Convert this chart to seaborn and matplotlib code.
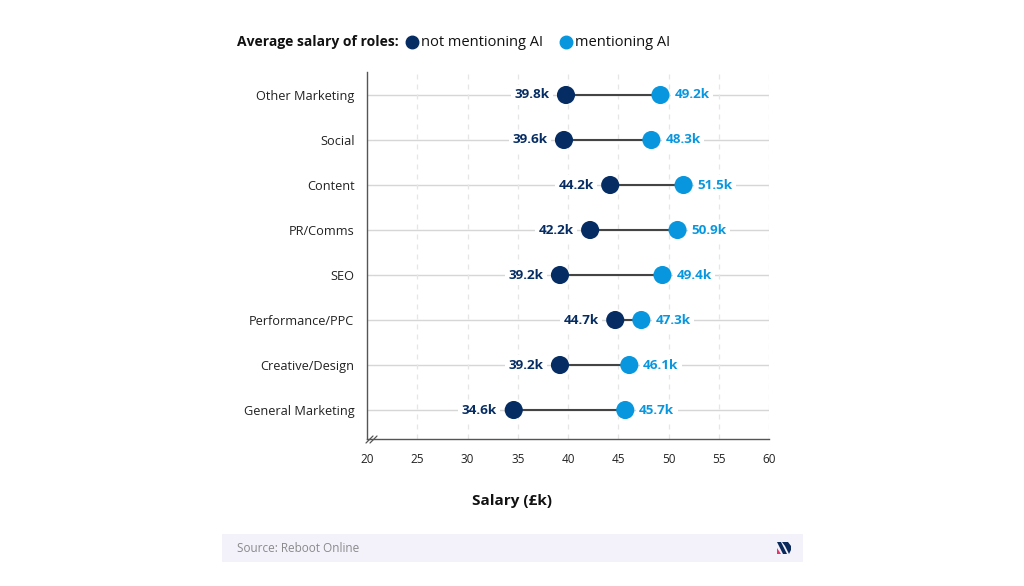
import matplotlib
matplotlib.use("Agg")
import matplotlib.pyplot as plt
import seaborn as sns
import pandas as pd
from matplotlib.patches import Rectangle, Polygon

categories = ["Other Marketing", "Social", "Content", "PR/Comms", "SEO",
              "Performance/PPC", "Creative/Design", "General Marketing"]
not_ai = [39.8, 39.6, 44.2, 42.2, 39.2, 44.7, 39.2, 34.6]
with_ai = [49.2, 48.3, 51.5, 50.9, 49.4, 47.3, 46.1, 45.7]
x_ticks = [20, 25, 30, 35, 40, 45, 50, 55, 60]

DARK = "#062d63"
LIGHT = "#0897de"
FONT = "Open Sans"

sns.set_theme(style="white")
plt.rcParams["font.family"] = [FONT, "DejaVu Sans"]

fig = plt.figure(figsize=(10.24, 5.86), dpi=100)
ax = fig.add_axes([367/1024, 1-439/586, (769-367)/1024, (439-72)/586])

df = pd.DataFrame({"role": categories, "not": not_ai, "ai": with_ai})
ypos = list(range(len(categories)))
df["y"] = ypos

# gridlines
for yv in ypos:
    ax.axhline(yv, color="#d6d6d6", lw=1.0, zorder=0)
for xv in x_ticks[1:]:
    ax.axvline(xv, color="#e6e6e6", lw=0.9, ls=(0, (4, 4)), zorder=0)

ax.hlines(df["y"], df["not"], df["ai"], color="#444444", lw=1.5, zorder=2)
sns.scatterplot(data=df, x="not", y="y", color=DARK, s=170, edgecolor="none", zorder=3, ax=ax, legend=False)
sns.scatterplot(data=df, x="ai", y="y", color=LIGHT, s=170, edgecolor="none", zorder=3, ax=ax, legend=False)

for _, r in df.iterrows():
    ax.annotate(f"{r['not']:.1f}k", (r["not"], r["y"]), xytext=(-12, 0), textcoords="offset points",
                ha="right", va="center", color=DARK, fontsize=9.7, fontweight="bold",
                bbox=dict(boxstyle="square,pad=0.25", fc="white", ec="none"), zorder=4)
    ax.annotate(f"{r['ai']:.1f}k", (r["ai"], r["y"]), xytext=(10, 0), textcoords="offset points",
                ha="left", va="center", color=LIGHT, fontsize=9.7, fontweight="bold",
                bbox=dict(boxstyle="square,pad=0.25", fc="white", ec="none"), zorder=4)

ax.set_xlim(20, 60)
ax.set_ylim(7.644, -0.511)
ax.set_xticks(x_ticks)
ax.set_xticklabels([str(v) for v in x_ticks], fontsize=8.5, color="#222222")
ax.set_yticks(ypos)
ax.set_yticklabels(categories, fontsize=9.2, color="#222222")
ax.tick_params(axis="both", length=0)
ax.tick_params(axis="x", pad=10)
ax.tick_params(axis="y", pad=9)
ax.set_xlabel("")
ax.set_ylabel("")
for s in ["top", "right"]:
    ax.spines[s].set_visible(False)
for s in ["left", "bottom"]:
    ax.spines[s].set_color("#555555")
    ax.spines[s].set_linewidth(1.0)

# axis break marks
for dx in (0, 4):
    fig.add_artist(plt.Line2D([(366+dx)/1024, (373+dx)/1024], [1-443/586, 1-436/586],
                              color="#555555", lw=0.9))

fig.text(512/1024, 1-501/586, "Salary (£k)", ha="center", va="center", fontsize=11, fontweight="bold", color="#111111")

# title legend
ty = 1-42/586
fig.text(237/1024, ty, "Average salary of roles:", ha="left", va="center", fontsize=10, fontweight="bold", color="#111111")
fig.add_artist(plt.Line2D([412/1024], [ty], marker="o", ms=9, color=DARK, ls="none"))
fig.text(421/1024, ty, "not mentioning AI", ha="left", va="center", fontsize=10.5, color="#111111")
fig.add_artist(plt.Line2D([566/1024], [ty], marker="o", ms=9, color=LIGHT, ls="none"))
fig.text(575/1024, ty, "mentioning AI", ha="left", va="center", fontsize=10.5, color="#111111")

# source bar
fig.add_artist(Rectangle((222/1024, 1-562/586), (803-222)/1024, 28/586, transform=fig.transFigure,
                         fc="#f3f2fb", ec="none", zorder=0))
fig.text(237/1024, 1-548/586, "Source: Reboot Online", ha="left", va="center", fontsize=8.5, color="#8a8a8a")
# small logo
def P(pts, c):
    fig.add_artist(Polygon([(x/1024, 1-y/586) for x, y in pts], closed=True, transform=fig.transFigure,
                           fc=c, ec="none"))
P([(777, 542), (781, 542), (787, 554), (783, 554)], "#0b2a5c")
P([(782, 542), (788, 542), (791, 546), (791, 550), (789, 554), (785, 546)], "#0b2a5c")
P([(777, 548), (781, 554), (777, 554)], "#e8336b")

fig.savefig("out.png", dpi=100, facecolor="white")
